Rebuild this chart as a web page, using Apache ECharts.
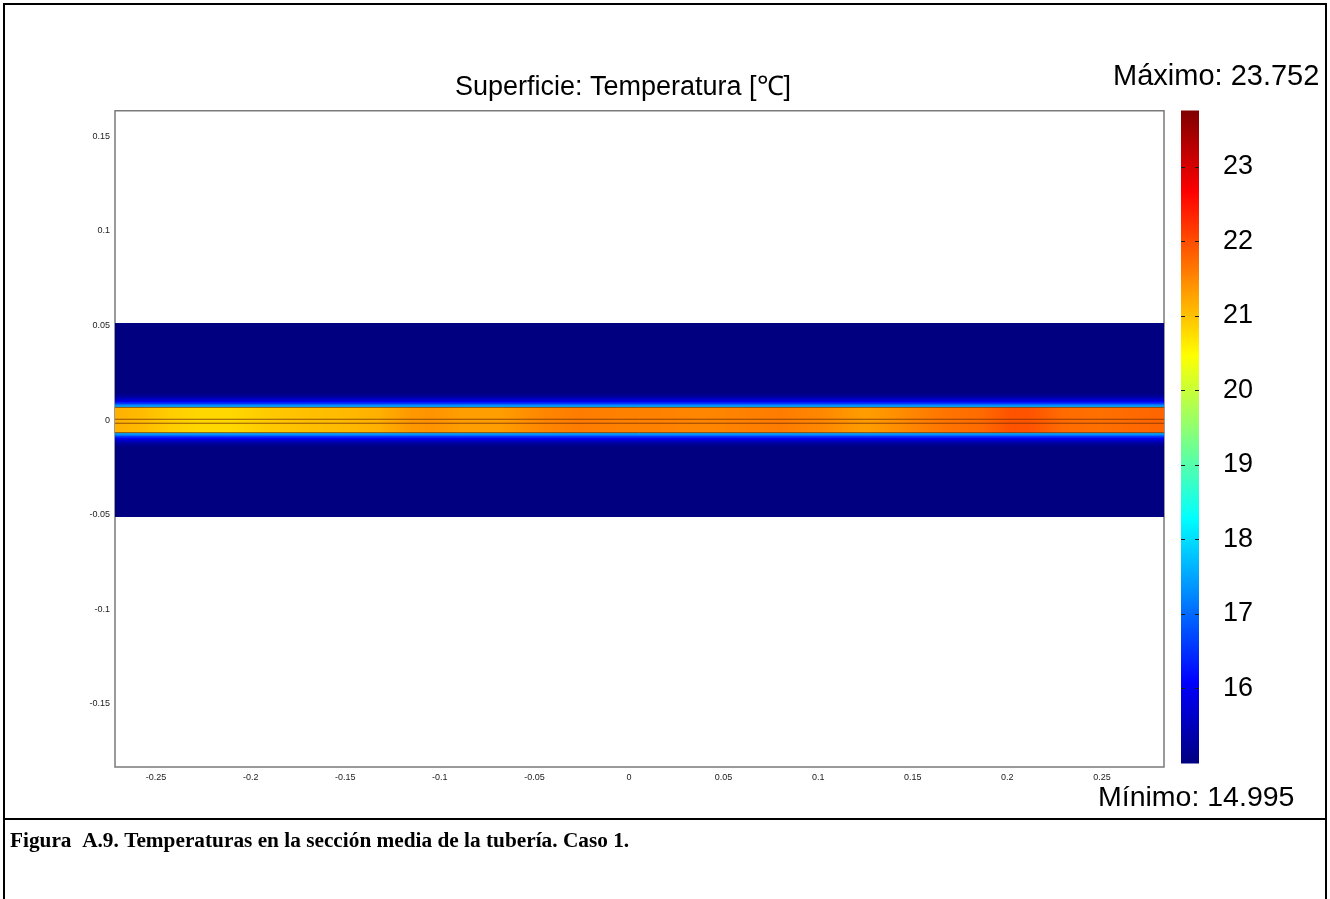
<!DOCTYPE html>
<html>
<head>
<meta charset="utf-8">
<title>Superficie: Temperatura</title>
<script src="https://cdn.jsdelivr.net/npm/echarts@6/dist/echarts.min.js"></script>
<style>
  html, body { margin: 0; padding: 0; background: #ffffff; }
  #chart { width: 1330px; height: 899px; }
</style>
</head>
<body>
<div id="chart"></div>
<script>
// Temperature range of the surface (°C)
const tempMin = 14.995;
const tempMax = 23.752;

// Axis tick values (m) and colour-bar ticks (°C)
const xTicks = [-0.25, -0.2, -0.15, -0.1, -0.05, 0, 0.05, 0.1, 0.15, 0.2, 0.25];
const yTicks = [-0.15, -0.1, -0.05, 0, 0.05, 0.1, 0.15];
const colorbarTicks = [16, 17, 18, 19, 20, 21, 22, 23];

// Extent of the view (m)
const xRange = [-0.2717, 0.2828];
const yRange = [-0.1834, 0.1635];

// Pipe radius (m)
const pipeRadius = 0.0067;

// Temperature along the pipe: station position (m) and temperature (°C)
const pipeX = [-0.2717, -0.258, -0.243, -0.227, -0.211, -0.195, -0.174, -0.153, -0.132, -0.116,
               -0.105, -0.089, -0.068, -0.047, -0.026, -0.005, 0.016, 0.038, 0.059, 0.080,
               0.101, 0.125, 0.143, 0.164, 0.186, 0.201, 0.212, 0.228, 0.249, 0.265, 0.2828];
const pipeT = [21.15, 21.05, 20.9, 20.8, 20.8, 20.9, 21.0, 21.05, 21.15, 21.35,
               21.4, 21.3, 21.3, 21.5, 21.6, 21.55, 21.55, 21.5, 21.55, 21.6,
               21.5, 21.3, 21.45, 21.65, 21.75, 21.95, 21.95, 21.75, 21.7, 21.75, 21.8];

// Ground temperature versus distance from the pipe axis (m, °C); the ground block ends at the last radius
const ringR = [0.0067, 0.0080, 0.0095, 0.0115, 0.0140, 0.051];
const ringT = [17.9, 17.0, 16.0, 15.4, 15.0, 15.0];

// Mesh boundaries drawn inside the pipe (m)
const boundaryY = [0.0067, 0.0004, -0.0017, -0.0067];

// Jet colour ramp, evenly spaced from tempMin to tempMax
const jet = ['#000080', '#0000ff', '#0080ff', '#00ffff', '#80ff80', '#ffff00', '#ff8000', '#ff0000', '#800000'];

function hexToRgb(h) {
  return [parseInt(h.slice(1, 3), 16), parseInt(h.slice(3, 5), 16), parseInt(h.slice(5, 7), 16)];
}
const jetRgb = jet.map(hexToRgb);
function tempColor(v) {
  let t = (v - tempMin) / (tempMax - tempMin);
  t = Math.max(0, Math.min(1, t)) * (jetRgb.length - 1);
  const i = Math.min(jetRgb.length - 2, Math.floor(t));
  const f = t - i;
  const a = jetRgb[i], b = jetRgb[i + 1];
  const c = a.map((x, k) => Math.round(x + (b[k] - x) * f));
  return 'rgb(' + c.join(',') + ')';
}

// Field cells: [x0, x1, y0, y1, T0, T1, direction] (0 = gradient along x, 1 = along y)
// Ground layers go from the outside inwards so that each inner layer covers the seam below it.
const cells = [];
for (let j = ringR.length - 2; j >= 0; j--) {
  [1, -1].forEach(function (s) {
    cells.push([xRange[0], xRange[1], s * ringR[j], s * ringR[j + 1], ringT[j], ringT[j + 1], 1]);
  });
}
for (let i = 0; i < pipeX.length - 1; i++) {
  cells.push([pipeX[i], pipeX[i + 1], -pipeRadius, pipeRadius, pipeT[i], pipeT[i + 1], 0]);
}

// Colour-bar segments: one per interval of the ramp
const barCells = [];
for (let k = 0; k < jet.length - 1; k++) {
  const lo = tempMin + (tempMax - tempMin) * k / (jet.length - 1);
  const hi = tempMin + (tempMax - tempMin) * (k + 1) / (jet.length - 1);
  barCells.push([0, 1, lo, hi, lo, hi, 1]);
}

function renderCell(params, api) {
  const p0 = api.coord([api.value(0), api.value(2)]);
  const p1 = api.coord([api.value(1), api.value(3)]);
  const c0 = tempColor(api.value(4));
  const c1 = tempColor(api.value(5));
  const horizontal = api.value(6) === 0;
  let grad;
  if (horizontal) {
    grad = new echarts.graphic.LinearGradient(0, 0, 1, 0, [
      { offset: 0, color: c0 }, { offset: 1, color: c1 }]);
  } else {
    const downward = p0[1] < p1[1];
    grad = new echarts.graphic.LinearGradient(0, downward ? 0 : 1, 0, downward ? 1 : 0, [
      { offset: 0, color: c0 }, { offset: 1, color: c1 }]);
  }
  const top = Math.min(p0[1], p1[1]);
  const h = Math.abs(p1[1] - p0[1]);
  return {
    type: 'rect',
    shape: {
      x: Math.min(p0[0], p1[0]),
      y: horizontal ? top : top - 0.6,
      width: Math.abs(p1[0] - p0[0]) + (horizontal ? 0.8 : 0),
      height: horizontal ? h : h + 1.2
    },
    style: { fill: grad }
  };
}

// Short tick dashes on both edges of the colour bar
function renderBarTick(params, api) {
  const a = api.coord([0, api.value(0)]);
  const b = api.coord([1, api.value(0)]);
  const y = Math.round(a[1]) + 0.5;
  const st = { stroke: '#1a1a1a', lineWidth: 1 };
  return {
    type: 'group',
    children: [
      { type: 'line', shape: { x1: a[0], y1: y, x2: a[0] + 4, y2: y }, style: st },
      { type: 'line', shape: { x1: b[0] - 4, y1: y, x2: b[0], y2: y }, style: st }
    ]
  };
}

const boundarySeries = boundaryY.map(function (y) {
  return {
    type: 'line',
    xAxisIndex: 0, yAxisIndex: 0,
    data: [[xRange[0], y], [xRange[1], y]],
    showSymbol: false,
    silent: true,
    z: 5,
    lineStyle: { color: 'rgba(110,45,10,0.75)', width: 1 }
  };
});

const chart = echarts.init(document.getElementById('chart'), null, { renderer: 'canvas' });

const labelFont = 'Liberation Sans, Arial, sans-serif';

chart.setOption({
  backgroundColor: '#ffffff',
  animation: false,
  title: [
    {
      text: 'Superficie: Temperatura [\u2103]',
      left: 623, top: 74, padding: 0, textAlign: 'center',
      textStyle: { fontFamily: labelFont, fontSize: 27, fontWeight: 'normal', color: '#000' }
    },
    {
      text: 'Máximo: ' + tempMax.toFixed(3),
      left: 1113, top: 62, padding: 0,
      textStyle: { fontFamily: labelFont, fontSize: 29, fontWeight: 'normal', color: '#000' }
    },
    {
      text: 'Mínimo: ' + tempMin.toFixed(3),
      left: 1098, top: 784, padding: 0,
      textStyle: { fontFamily: labelFont, fontSize: 28.5, fontWeight: 'normal', color: '#000' }
    },
    {
      text: 'Figura  A.9. Temperaturas en la sección media de la tubería. Caso 1.',
      left: 10, top: 831, padding: 0,
      textStyle: { fontFamily: 'Liberation Serif, Times New Roman, serif', fontSize: 21.3, fontWeight: 'bold', color: '#000' }
    }
  ],
  graphic: [
    { type: 'rect', silent: true, z: 100, shape: { x: 4, y: 4, width: 1322, height: 920 },
      style: { fill: 'none', stroke: '#000', lineWidth: 2 } },
    { type: 'line', silent: true, z: 100, shape: { x1: 4, y1: 819, x2: 1326, y2: 819 },
      style: { stroke: '#000', lineWidth: 2 } }
  ],
  grid: [
    { left: 115, top: 110.7, width: 1049, height: 656.3, show: true,
      borderColor: '#7a7a7a', borderWidth: 1.5, backgroundColor: '#ffffff' },
    { left: 1181, top: 111, width: 18, height: 652, show: false }
  ],
  visualMap: {
    type: 'continuous', show: false,
    min: tempMin, max: tempMax,
    seriesIndex: [0, 1], dimension: 4,
    inRange: { color: jet }
  },
  xAxis: [
    {
      gridIndex: 0, type: 'value', min: xRange[0], max: xRange[1],
      axisLine: { show: false }, axisTick: { show: false }, splitLine: { show: false },
      axisLabel: {
        customValues: xTicks, margin: 6, fontSize: 9, color: '#222', fontFamily: labelFont,
        formatter: function (v) { return String(+(+v).toFixed(2)); }
      }
    },
    { gridIndex: 1, type: 'value', min: 0, max: 1, show: false }
  ],
  yAxis: [
    {
      gridIndex: 0, type: 'value', min: yRange[0], max: yRange[1],
      axisLine: { show: false }, axisTick: { show: false }, splitLine: { show: false },
      axisLabel: {
        customValues: yTicks, margin: 5, fontSize: 9, color: '#222', fontFamily: labelFont,
        padding: [4, 0, 0, 0],
        formatter: function (v) { return String(+(+v).toFixed(2)); }
      }
    },
    {
      gridIndex: 1, type: 'value', min: tempMin, max: tempMax, position: 'right',
      axisLine: { show: false }, splitLine: { show: false }, axisTick: { show: false },
      axisLabel: { customValues: colorbarTicks, margin: 24, fontSize: 27, color: '#000',
                   fontFamily: labelFont, padding: [0, 0, 14, 0] }
    }
  ],
  series: [
    {
      type: 'custom',
      xAxisIndex: 0, yAxisIndex: 0,
      clip: true, silent: true, z: 2,
      data: cells,
      encode: { x: [0, 1], y: [2, 3] },
      renderItem: renderCell
    },
    {
      type: 'custom',
      xAxisIndex: 1, yAxisIndex: 1,
      clip: false, silent: true, z: 2,
      data: barCells,
      encode: { x: [0, 1], y: [2, 3] },
      renderItem: renderCell
    },
    {
      type: 'custom',
      xAxisIndex: 1, yAxisIndex: 1,
      clip: false, silent: true, z: 4,
      data: colorbarTicks.map(function (v) { return [v]; }),
      encode: { y: 0 },
      renderItem: renderBarTick
    }
  ].concat(boundarySeries)
});
</script>
</body>
</html>
